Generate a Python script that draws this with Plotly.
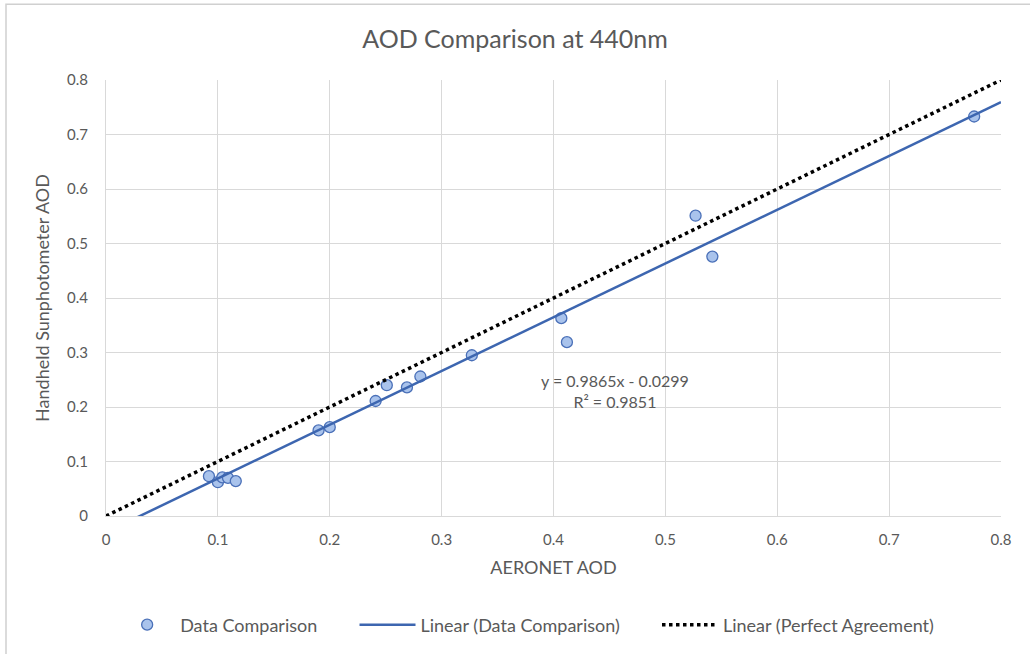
import plotly.graph_objects as go

aeronet_aod = [0.092, 0.100, 0.104, 0.109, 0.116, 0.190, 0.200, 0.241, 0.251, 0.269,
               0.281, 0.327, 0.407, 0.412, 0.527, 0.542, 0.776]
handheld_aod = [0.073, 0.062, 0.071, 0.070, 0.064, 0.157, 0.163, 0.211, 0.240, 0.236,
                0.256, 0.295, 0.363, 0.319, 0.551, 0.476, 0.733]
fit_slope = 0.9865
fit_intercept = -0.0299
fit_r2 = 0.9851
line_x = [0.0, 0.8]
tick_vals = [0, 0.1, 0.2, 0.3, 0.4, 0.5, 0.6, 0.7, 0.8]
tick_text = ["0", "0.1", "0.2", "0.3", "0.4", "0.5", "0.6", "0.7", "0.8"]

FONT = "Lato, Open Sans, sans-serif"
GRAY = "#595959"
PAD = "\u00a0" * 7

fig = go.Figure()
fig.add_trace(go.Scatter(
    x=aeronet_aod, y=handheld_aod, mode="markers", name="Data Comparison" + PAD,
    marker=dict(size=11, color="#a9c3ec", line=dict(color="#4a70b8", width=1.3)),
))
fig.add_trace(go.Scatter(
    x=line_x, y=[fit_slope * v + fit_intercept for v in line_x], mode="lines",
    name="Linear (Data Comparison)" + PAD, line=dict(color="#3d66b0", width=2.5),
))
fig.add_trace(go.Scatter(
    x=line_x, y=line_x, mode="lines", name="Linear (Perfect Agreement)",
    line=dict(color="black", width=3.5, dash="dot"),
))

fig.add_annotation(
    x=0.455, y=0.229, xref="x", yref="y",
    text=f"y = {fit_slope}x - {abs(fit_intercept)}<br>R² = {fit_r2}",
    showarrow=False, font=dict(family=FONT, size=16, color=GRAY), align="center",
)

fig.add_shape(type="rect", xref="paper", yref="paper",
              x0=-100/895, x1=1.05, y0=-0.35, y1=1 + 76/437,
              line=dict(color="#d0d0d0", width=1.5), fillcolor="rgba(0,0,0,0)", layer="below")

fig.update_layout(
    width=1030, height=654,
    margin=dict(l=106, r=29, t=80, b=137),
    paper_bgcolor="white", plot_bgcolor="white",
    title=dict(text="AOD Comparison at 440nm", x=0.5, xanchor="center", y=0.94, yanchor="middle",
               font=dict(family=FONT, size=25, color=GRAY)),
    font=dict(family=FONT, color=GRAY),
    xaxis=dict(range=[0, 0.8], tickvals=tick_vals, ticktext=tick_text,
               showgrid=True, gridcolor="#d9d9d9", gridwidth=1,
               zeroline=False, showline=True, linecolor="#d9d9d9", mirror=False,
               tickfont=dict(family=FONT, size=15, color=GRAY), ticks="", ticklabelstandoff=10,
               title=dict(text="AERONET AOD", font=dict(family=FONT, size=18, color=GRAY), standoff=14)),
    yaxis=dict(range=[0, 0.8], tickvals=tick_vals, ticktext=tick_text,
               showgrid=True, gridcolor="#d9d9d9", gridwidth=1,
               zeroline=False, showline=True, linecolor="#d9d9d9",
               tickfont=dict(family=FONT, size=15, color=GRAY), ticks="", ticklabelstandoff=14,
               title=dict(text="Handheld Sunphotometer AOD", font=dict(family=FONT, size=18, color=GRAY), standoff=12)),
    legend=dict(orientation="h", x=0.47, xanchor="center", y=-0.247, yanchor="middle",
                font=dict(family=FONT, size=18, color=GRAY), itemwidth=56,
                tracegroupgap=0),
    showlegend=True,
)

fig.write_html("out.html")
